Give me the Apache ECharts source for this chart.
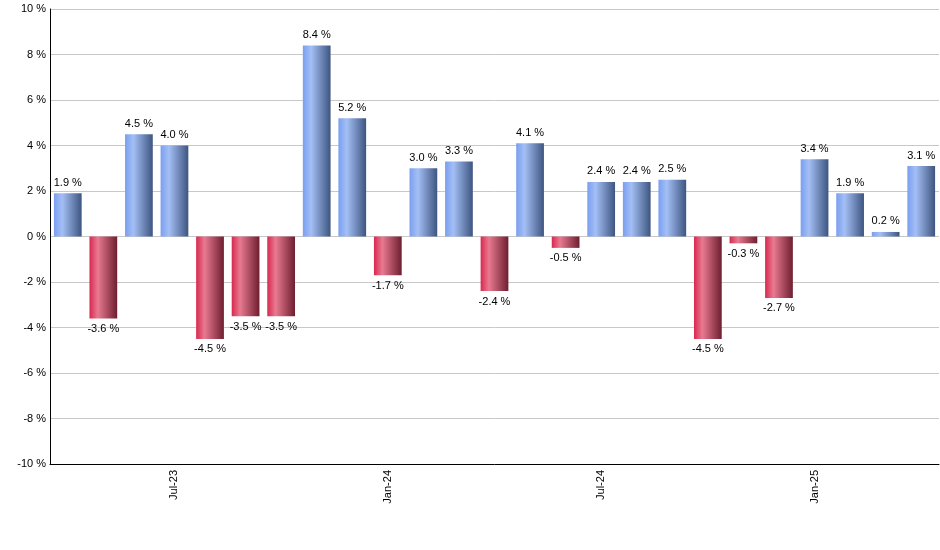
<!DOCTYPE html>
<html lang="en">
<head>
    <meta charset="UTF-8">
    <title>Monthly returns</title>
    <script src="https://cdn.jsdelivr.net/npm/echarts@6/dist/echarts.min.js"></script>
    <style>
        html, body { margin: 0; padding: 0; background: #fff; }
        #main { width: 940px; height: 550px; }
    </style>
</head>
<body>
    <div id="main"></div>
    <script>
        const months = ['Apr-23', 'May-23', 'Jun-23', 'Jul-23', 'Aug-23', 'Sep-23', 'Oct-23', 'Nov-23', 'Dec-23',
            'Jan-24', 'Feb-24', 'Mar-24', 'Apr-24', 'May-24', 'Jun-24', 'Jul-24', 'Aug-24', 'Sep-24', 'Oct-24',
            'Nov-24', 'Dec-24', 'Jan-25', 'Feb-25', 'Mar-25', 'Apr-25']
        const returns = [1.9, -3.6, 4.5, 4.0, -4.5, -3.5, -3.5, 8.4, 5.2, -1.7, 3.0, 3.3, -2.4, 4.1, -0.5,
            2.4, 2.4, 2.5, -4.5, -0.3, -2.7, 3.4, 1.9, 0.2, 3.1]
        const shownLabels = ['Jul-23', 'Jan-24', 'Jul-24', 'Jan-25']

        const blue = { type: 'linear', x: 0, y: 0, x2: 1, y2: 0, colorStops: [
            { offset: 0, color: '#7a9ff0' }, { offset: 0.3, color: '#a4bff5' }, { offset: 1, color: '#3d5580' }] }
        const red = { type: 'linear', x: 0, y: 0, x2: 1, y2: 0, colorStops: [
            { offset: 0, color: '#d8284f' }, { offset: 0.3, color: '#e87a90' }, { offset: 1, color: '#6e1e30' }] }

        const isShown = (i) => shownLabels.indexOf(months[i]) >= 0

        let chart = echarts.init(document.getElementById('main'))
        chart.setOption({
            animation: false,
            grid: { left: 50, right: 1, top: 9, bottom: 86 },
            xAxis: {
                type: 'category',
                data: months,
                axisLine: { onZero: false, lineStyle: { color: '#000' } },
                axisTick: { alignWithLabel: true, interval: isShown, lineStyle: { color: '#000' } },
                axisLabel: { interval: isShown, rotate: 90, color: '#000', fontSize: 11, fontFamily: 'Liberation Sans', margin: 6 }
            },
            yAxis: {
                type: 'value',
                min: -10, max: 10, interval: 2,
                axisLine: { show: true, lineStyle: { color: '#000' } },
                axisTick: { show: false },
                splitLine: { lineStyle: { color: '#c8c8c8' } },
                axisLabel: { formatter: '{value} %', color: '#000', fontSize: 11, fontFamily: 'Liberation Sans', margin: 4 }
            },
            series: [{
                type: 'bar',
                barCategoryGap: '22%',
                data: returns.map(v => ({ value: v, itemStyle: { color: v >= 0 ? blue : red } })),
                label: {
                    show: true,
                    position: 'outside',
                    formatter: p => p.value.toFixed(1) + ' %',
                    color: '#000', fontSize: 11, fontFamily: 'Liberation Sans', distance: 5
                }
            }]
        })
    </script>
</body>
</html>
